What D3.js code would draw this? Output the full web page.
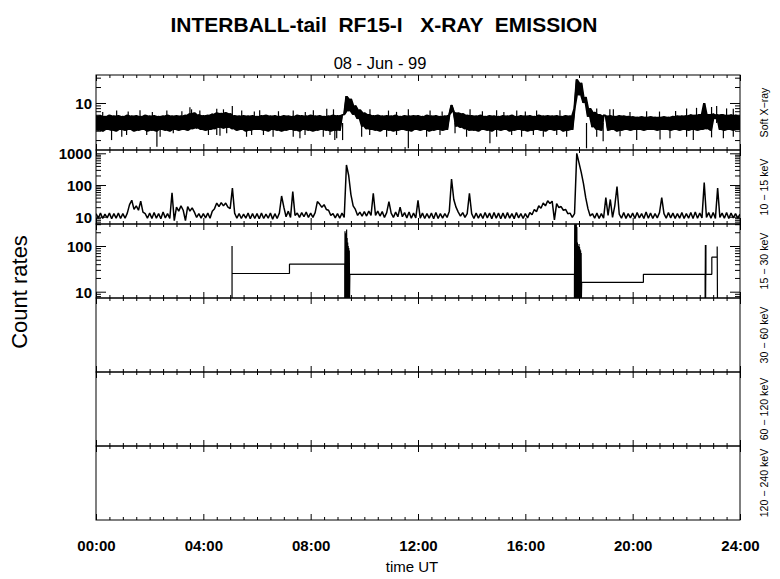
<!DOCTYPE html>
<html><head><meta charset="utf-8">
<script src="https://cdn.jsdelivr.net/npm/d3@7"></script>
<style>
html,body{margin:0;padding:0;background:#fff;}
svg{display:block;}
text{font-family:"Liberation Sans",Arial,sans-serif;fill:#000;}
</style></head>
<body>
<script>
// ---------------- DATA ----------------
const chartTitle = "INTERBALL-tail  RF15-I   X-RAY  EMISSION";
const chartDate = "08 - Jun - 99";
const yTitle = "Count rates";
const xTitle = "time UT";
const channelLabels = ["Soft X\u2212ray", "10 \u2212 15 keV", "15 \u2212 30 keV", "30 \u2212 60 keV", "60 \u2212 120 keV", "120 \u2212 240 keV"];
const xMajorTicks = [0, 4, 8, 12, 16, 20, 24];
const xTickLabels = ["00:00", "04:00", "08:00", "12:00", "16:00", "20:00", "24:00"];
const sampleStepHours = 5 / 60; // samples every 5 minutes from 00:00

// Soft X-ray count rate, core of the noise band, one row per hour (5-min samples)
const softXray = [
  5.8,3.0,5.9,2.9,5.7,3.1,6.0,3.0,5.8,2.9,5.9,3.1,
  5.7,3.0,6.0,3.1,5.8,2.9,5.9,3.0,5.7,3.1,6.0,2.9,
  5.8,3.0,5.9,2.9,5.7,3.1,5.8,3.0,6.0,2.9,5.8,3.1,
  5.9,3.0,5.8,3.1,6.0,3.0,6.4,3.2,6.6,3.3,6.1,3.1,
  5.9,3.0,6.0,3.1,6.3,3.2,6.6,3.4,6.5,3.3,6.7,3.4,
  6.4,3.2,5.9,3.0,5.8,3.1,5.9,2.9,5.8,3.0,5.9,3.1,
  5.7,3.1,5.9,3.0,6.0,2.9,5.8,3.1,5.9,3.0,5.7,2.9,
  5.9,3.0,5.8,3.1,5.7,3.0,6.0,2.9,5.9,3.1,5.8,3.0,
  6.0,2.9,5.8,3.0,5.9,3.1,5.7,3.0,5.8,2.9,6.0,3.0,
  5.9,3.0,6.0,6.0,13.5,7.0,12.0,6.0,9.0,5.0,7.5,3.6,
  6.6,3.2,6.2,3.1,5.9,3.0,6.0,2.9,5.8,3.1,5.9,3.0,
  5.8,2.9,6.0,3.0,5.7,3.1,5.9,3.0,5.8,2.9,5.9,3.1,
  5.9,3.0,5.7,3.1,6.0,2.9,5.8,3.0,5.9,3.1,5.7,3.0,
  5.8,3.1,6.0,9.2,6.8,3.6,6.6,3.4,6.4,3.2,6.0,3.0,
  5.9,3.0,5.8,2.9,6.0,3.1,5.7,3.0,5.9,2.9,5.8,3.1,
  5.7,3.0,5.9,3.1,5.8,2.9,6.0,3.0,5.7,3.1,5.9,3.0,
  5.8,2.9,5.9,3.0,5.7,3.1,6.0,3.0,5.8,2.9,5.9,3.1,
  5.8,3.0,5.9,3.1,5.7,2.9,5.9,3.0,5.8,3.1,8.0,28,
  14,24,10,13,5.5,8.0,3.5,6.8,3.1,6.2,3.0,5.9,
  5.8,3.0,5.9,3.1,5.7,2.9,5.9,3.0,5.8,3.1,5.7,3.0,
  5.6,3.1,5.5,3.1,5.6,3.0,5.5,3.1,5.6,3.1,5.5,3.0,
  5.5,3.1,5.6,3.1,5.5,3.0,5.7,3.1,5.8,3.0,5.8,3.1,
  5.9,3.0,6.1,3.1,6.0,3.0,6.2,3.1,10,3.2,6.2,3.0,
  6.3,5.0,6.1,3.1,6.2,3.0,6.0,3.1,6.1,3.0,6.0,3.1,
  5.8
];
// single-sample excursions above and below the soft X-ray band: [hour, counts]
const softXrayUpSpikes = [
  [0.25,6.8],[0.77,7.2],[1.20,6.9],[1.64,7.3],[2.10,6.8],[2.64,7.2],[3.20,7.0],[3.50,8.3],[3.56,7.6],
  [3.87,7.2],[4.50,7.8],[4.75,7.6],[5.08,8.8],[5.43,7.2],[5.90,6.9],[6.10,7.3],[6.80,7.0],[7.35,7.2],
  [7.80,6.8],[8.10,7.3],[8.60,7.8],[8.85,7.6],[9.90,7.1],[10.21,7.6],[10.90,7.2],[11.20,6.8],
  [11.64,7.6],[12.45,7.2],[12.90,6.9],[13.94,7.6],[14.40,7.0],[14.93,7.3],[15.20,6.8],[15.68,7.2],
  [16.00,6.9],[16.42,7.2],[17.29,7.3],[18.66,7.9],[19.15,7.6],[19.28,7.6],[19.90,6.8],[20.52,7.0],
  [21.00,6.9],[21.60,7.1],[22.01,7.9],[22.38,8.1],[22.94,8.4],[23.13,8.8],[23.50,7.9],[23.75,7.8]
];
const softXrayDownSpikes = [
  [0.58,2.0],[0.96,2.31],[1.14,2.49],[1.89,2.49],[2.27,1.5],[2.39,2.31],[2.88,2.68],[4.19,2.49],
  [4.50,2.49],[4.62,2.4],[4.87,2.68],[5.61,2.31],[5.80,2.49],[6.24,2.49],[6.60,2.31],[7.35,2.31],
  [7.60,2.16],[7.79,2.49],[8.47,2.31],[8.72,2.49],[8.90,2.0],[8.97,2.16],[9.19,2.0],[9.90,2.31],
  [10.20,2.49],[10.83,2.31],[11.20,2.49],[11.64,1.4],[12.32,2.31],[12.82,2.49],[13.38,2.68],[13.81,2.31],
  [14.68,1.74],[14.93,2.31],[15.49,2.49],[15.86,2.31],[16.30,2.49],[16.67,2.31],[17.17,2.49],[17.54,2.31],
  [18.28,1.4],[18.66,2.31],[18.90,1.9],[19.53,2.35],[20.15,2.0],[21.02,2.05],[21.39,2.16],[22.01,2.31],
  [22.26,2.0],[22.94,2.25],[23.38,2.16],[23.75,2.31]
];
const softXrayBandMid = 4.2;

// 10-15 keV count rate, one row per hour (5-min samples)
const kev10to15 = [
  12.5,9,13,8.8,12,9.2,13,8.6,12.5,9,13,8.8,
  12.5,9,13,24,33,17,22,16,31,14,12.5,9,
  13,8.8,13.5,9,12.5,8.6,14,9.2,12.5,8.8,57,7.5,
  20,15,22,16,7.5,21,15,19,14,9.5,12.5,9,
  12.5,9.2,13,9,15,18,27,21,28,22,27,20,
  18,80,13,9,12.5,8.8,12,9,13,8.6,12.5,8.8,
  12.5,8.6,13,8.8,12,9,13,8.4,12.5,8.8,13,45,
  20,10,15,9.5,62,11,13,9.5,13.5,10,14,9.5,
  13,9.5,13.5,30,25,20,24,17,16,11,12.5,9.2,
  12.5,9,13,9.5,430,200,50,22,17,11,14,10.5,
  14.5,10.5,15,11,55,11,15,10.5,14.5,9.5,13.5,30,
  13,9.5,14,10,20,10,13.5,9.2,14,9,13,9.2,
  33,9,13,8.8,12.5,9,13,8.6,13.5,8.8,12.5,9,
  12.5,9.5,15,155,35,20,14,10.5,13.5,9.5,12.5,55,
  12.5,8.8,13,9,12.5,8.8,13.5,9.2,13,8.6,13.5,9,
  13,8.6,13,8.8,13.5,9,12.5,8.7,13.5,9.2,12.5,8.8,
  12.5,9.2,13.5,11.5,17,14.5,22,18.5,27,22,32,26,
  31,8,26,19.5,21,16,17,12.5,13,9.5,12.5,1000,
  500,250,110,40,18,10.5,12.5,9,13,8.8,12.5,9,
  40,11,35,9.5,22,90,12,9,13.5,8.8,12.5,9.2,
  13,8.8,13.5,9.2,12.5,8.8,14,9,13,8.8,12.5,9.2,
  13.5,40,12.5,9,13.5,9.2,13,8.8,12.5,9,13.5,8.8,
  12.5,9,13.5,8.8,14,9,13,9.2,120,9.5,13.5,9,
  13.5,8.8,80,9.5,13,9,13.5,8.8,13,9.2,12.5,9,
  12
];

// 15-30 keV: vertices of the stepped trace (hours, counts); 1 = below axis
const kev15to30Time = [
  5.07,5.07,5.07,7.21,7.21,9.27,
  9.27,9.28,9.29,9.30,9.31,9.32,9.33,9.34,9.35,9.36,9.37,9.38,9.39,9.40,9.41,9.42,9.43,9.44,9.45,9.46,
  9.46,17.83,
  17.83,17.84,17.85,17.86,17.87,17.88,17.89,17.90,17.91,17.92,17.93,17.94,17.95,17.96,17.97,17.98,17.99,18.00,18.01,18.02,18.03,18.04,18.05,18.06,18.07,18.08,18.09,18.10,
  18.10,20.40,20.40,22.70,22.70,22.71,22.72,22.73,22.73,22.95,22.95,23.15,23.15,23.16
];
const kev15to30Value = [
  1,100,25,25,40,40,
  1,210,1,190,1,160,1,230,1,150,1,120,1,100,1,90,1,80,1,24,
  24,24,
  1,300,1,300,1,280,1,300,1,260,1,120,1,100,1,90,1,110,1,95,1,85,1,80,1,70,1,16,
  16,16,24,24,1,105,1,105,24,24,57,57,97,1
];

const xDomain = [0, 24];
const panelDomains = [[1.3, 33.7], [5.9, 1271], [7.28, 303]];

// ---------------- LAYOUT ----------------
const W = 780, H = 579;
const left = 96, right = 740;
const panelTops = [75, 150, 224, 298, 372, 446];
const panelBottom = 520;
const panelH = i => (i < 5 ? panelTops[i+1] : panelBottom) - panelTops[i];

const svg = d3.select("body").append("svg").attr("width", W).attr("height", H);
svg.append("rect").attr("width", W).attr("height", H).attr("fill", "#fff");

const x = d3.scaleLinear().domain(xDomain).range([left, right]);
const minorX = d3.range(0, 24.001, 0.5).filter(v => !xMajorTicks.includes(v));

const defs = svg.append("defs");

panelTops.forEach((top, i) => {
  const bottom = top + panelH(i);
  const g = svg.append("g");
  const axTopMaj = d3.axisBottom(x).tickValues(xMajorTicks).tickSize(6).tickFormat("");
  const axTopMin = d3.axisBottom(x).tickValues(minorX).tickSize(3).tickFormat("");
  const axBotMaj = d3.axisTop(x).tickValues(xMajorTicks).tickSize(6).tickFormat("");
  const axBotMin = d3.axisTop(x).tickValues(minorX).tickSize(3).tickFormat("");
  [[axTopMaj, top], [axTopMin, top], [axBotMaj, bottom], [axBotMin, bottom]].forEach(([ax, yy]) => {
    const a = g.append("g").attr("transform", `translate(0,${yy})`).call(ax);
    a.select(".domain").remove();
    a.selectAll("line").attr("stroke", "#000").attr("stroke-width", 1);
  });

  if (i < 3) {
    const y = d3.scaleLog().domain(panelDomains[i]).range([bottom, top]).clamp(true);
    const all = y.ticks(20);
    const major = all.filter(v => Math.abs(Math.log10(v) - Math.round(Math.log10(v))) < 1e-9);
    const minor = all.filter(v => !major.includes(v));
    const axes = [
      [d3.axisRight(y).tickValues(major).tickSize(10), left],
      [d3.axisRight(y).tickValues(minor).tickSize(5), left],
      [d3.axisLeft(y).tickValues(major).tickSize(10), right],
      [d3.axisLeft(y).tickValues(minor).tickSize(5), right]
    ];
    axes.forEach(([ax, xx]) => {
      const a = g.append("g").attr("transform", `translate(${xx},0)`).call(ax.tickFormat(""));
      a.select(".domain").remove();
      a.selectAll("line").attr("stroke", "#000");
    });
    const lab = g.append("g").attr("transform", `translate(${left},0)`)
      .call(d3.axisLeft(y).tickValues(major).tickSize(0).tickPadding(4).tickFormat(d3.format("d")));
    lab.select(".domain").remove();
    lab.selectAll("text").attr("font-size", 15).attr("font-weight", "bold")
      .attr("font-family", "Liberation Sans, Arial, sans-serif").attr("dy", "0.36em");

    defs.append("clipPath").attr("id", "clip" + i).append("rect")
      .attr("x", left).attr("y", top).attr("width", right - left).attr("height", bottom - top);
    const dg = g.append("g").attr("clip-path", `url(#clip${i})`);

    let pts;
    if (i === 0) pts = softXray.map((v, k) => [k * sampleStepHours, v]);
    else if (i === 1) pts = kev10to15.map((v, k) => [k * sampleStepHours, v]);
    else pts = kev15to30Time.map((t, k) => [t, kev15to30Value[k]]);

    if (i === 0) {
      // fill the span covered by each pair of consecutive samples so the dense trace reads as a solid band
      const spans = d3.pairs(pts).map(([a, b]) => [(a[0] + b[0]) / 2, Math.min(a[1], b[1]), Math.max(a[1], b[1])]);
      spans.unshift([pts[0][0], spans[0][1], spans[0][2]]);
      spans.push([pts[pts.length - 1][0], spans[spans.length - 1][1], spans[spans.length - 1][2]]);
      const band = d3.area().x(d => x(d[0])).y0(d => y(d[1])).y1(d => y(d[2]));
      dg.append("path").attr("d", band(spans)).attr("fill", "#000").attr("stroke", "none");
    }

    const line = d3.line().x(d => x(d[0])).y(d => y(d[1]));
    dg.append("path").attr("d", line(pts))
      .attr("fill", "none").attr("stroke", "#000").attr("stroke-width", [1.6, 1.5, 1.2][i])
      .attr("stroke-linejoin", "bevel");

    if (i === 0) {
      dg.selectAll("line.spk").data(softXrayUpSpikes.concat(softXrayDownSpikes)).join("line")
        .attr("class", "spk")
        .attr("x1", d => x(d[0])).attr("x2", d => x(d[0]))
        .attr("y1", y(softXrayBandMid)).attr("y2", d => y(d[1]))
        .attr("stroke", "#000").attr("stroke-width", 1.2);
    }
  }

  g.append("rect").attr("x", left).attr("y", top).attr("width", right - left).attr("height", bottom - top)
    .attr("fill", "none").attr("stroke", "#000").attr("stroke-width", 1);

  svg.append("text")
    .attr("transform", `translate(768,${(top + bottom) / 2}) rotate(-90)`)
    .attr("text-anchor", "middle").attr("font-size", 10.6)
    .attr("font-family", "DejaVu Sans, sans-serif")
    .text(channelLabels[i]);
});

const xl = svg.append("g").attr("transform", `translate(0,${panelBottom})`)
  .call(d3.axisBottom(x).tickValues(xMajorTicks).tickSize(0).tickPadding(20)
    .tickFormat((d, k) => xTickLabels[k]));
xl.select(".domain").remove();
xl.selectAll("text").attr("font-size", 15).attr("font-weight", "bold")
  .attr("font-family", "Liberation Sans, Arial, sans-serif");

svg.append("text").attr("x", 384).attr("y", 32).attr("text-anchor", "middle")
  .attr("font-size", 21).attr("font-weight", "bold").style("white-space", "pre")
  .text(chartTitle);
svg.append("text").attr("x", 380).attr("y", 69).attr("text-anchor", "middle")
  .attr("font-size", 16.5).style("white-space", "pre").text(chartDate);
svg.append("text").attr("x", (left + right) / 2 - 6).attr("y", 572).attr("text-anchor", "middle")
  .attr("font-size", 15).text(xTitle);
svg.append("text").attr("transform", "translate(27,292) rotate(-90)").attr("text-anchor", "middle")
  .attr("font-size", 22).text(yTitle);
</script>
</body></html>
